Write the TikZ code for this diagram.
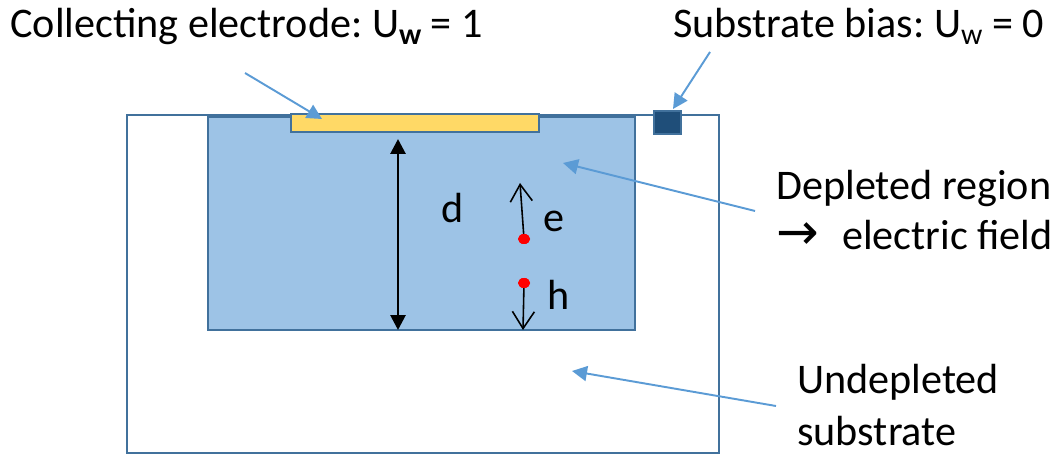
\documentclass[tikz,border=0pt]{standalone}
\usepackage{fontspec}
\setmainfont{Carlito}
\newfontfamily\arrowfont{DejaVu Sans}
\usetikzlibrary{arrows.meta,fit,shapes.geometric}
\frenchspacing
\definecolor{edge}{HTML}{41719C}
\definecolor{depfill}{HTML}{9DC3E6}
\definecolor{gold}{HTML}{FFD966}
\definecolor{navy}{HTML}{1F4E79}
\definecolor{pointer}{HTML}{5B9BD5}
\tikzset{
  region/.style  = {rectangle, draw=edge, line width=1.1pt, inner sep=0pt},
  deplbox/.style = {region, fill=depfill},
  elecbox/.style = {region, fill=gold},
  biasbox/.style = {region, fill=navy},
  lbl/.style     = {anchor=base west, inner sep=0pt, font=\fontsize{24}{28}\selectfont},
  carrier/.style = {ellipse, fill=red, minimum width=2.4mm, minimum height=2mm, inner sep=0pt},
  ptr/.style     = {-{Triangle[length=3mm,width=3mm]}, draw=pointer, line width=1.1pt},
  dim/.style     = {{Triangle[length=3mm,width=3mm]}-{Triangle[length=3mm,width=3mm]}, line width=1.6pt},
  drift/.style   = {-{Straight Barb[length=3.4mm,width=4.4mm]}, line width=0.9pt}
}
\newcommand{\wsub}[1]{\raisebox{-0.3ex}{\fontsize{17}{17}\selectfont #1}}
\begin{document}
\begin{tikzpicture}[x=0.02cm, y=-0.02cm]
    \useasboundingbox (0,0) rectangle (1053,455);
    \node[region, fit={(127,115) (719,453)}] (sub) {};
    \node[deplbox, fit={(208,117) (635,330)}] (dep) {};
    \node[elecbox, fit={(291,114) (539,132)}] (elec) {};
    \node[biasbox, fit={(654,111) (681,134)}] (bias) {};
    \node[lbl] (tcol) at (10,38) {Collecting electrode: U\wsub{\textbf{w}} = 1};
    \node[lbl] (tbias) at (673,38) {Substrate bias: U\wsub{w} = 0};
    \node[lbl] (tdep) at (776,200) {Depleted region};
    \node[lbl] (tfield) at (776,250) {{\arrowfont\fontsize{29}{29}\selectfont →}\hspace{0.55em}electric field};
    \node[lbl] (tund) at (797,393) {Undepleted};
    \node[lbl] (tsubs) at (797,445) {substrate};
    \node[lbl] (dlab) at (441,223) {d};
    \node[lbl] (elab) at (543,232) {e};
    \node[lbl] (hlab) at (547,310) {h};
    \node[carrier] (ecar) at (524,239) {};
    \node[carrier] (hcar) at (524,283) {};
    \coordinate (etip) at (520,183);
    \coordinate (htip) at (523,330);
    \coordinate (dtop) at (398,139);
    \coordinate (dbot) at (398,330);
    \coordinate (p1) at (245,73);  \coordinate (q1) at (322,119);
    \coordinate (p2) at (710,52);  \coordinate (q2) at (673,109);
    \coordinate (p3) at (755,211); \coordinate (q3) at (563,163);
    \coordinate (p4) at (776,406); \coordinate (q4) at (572,371);
    \draw[dim] (dtop) -- (dbot);
    \draw[drift] (ecar.center) -- (etip);
    \draw[drift] (hcar.center) -- (htip);
    \draw[ptr] (p1) -- (q1); \draw[ptr] (p2) -- (q2);
    \draw[ptr] (p3) -- (q3); \draw[ptr] (p4) -- (q4);
    \node[carrier] at (ecar) {};
    \node[carrier] at (hcar) {};
  \end{tikzpicture}
\end{document}
